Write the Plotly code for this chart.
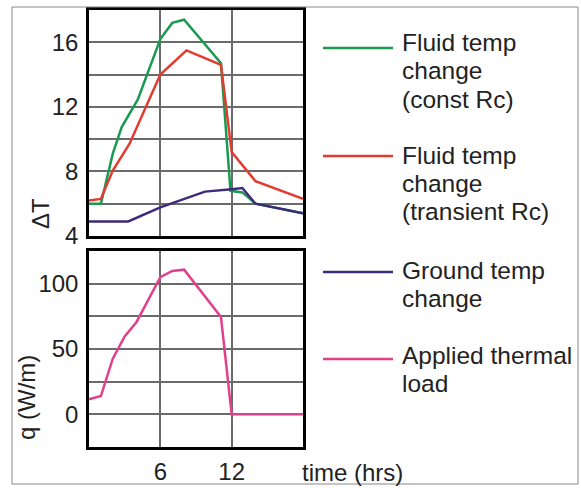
import plotly.graph_objects as go

# ---- data ----
t_green = [0, 1, 2, 2.75, 4.1, 6, 7, 8, 11.1, 11.9, 12.9, 14, 18]
dT_const = [6.0, 6.0, 9.1, 10.75, 12.45, 16.2, 17.2, 17.4, 14.7, 6.8, 6.7, 6.0, 5.4]

t_red = [0, 1, 2, 3.4, 6, 8.2, 11.1, 12, 14, 18]
dT_trans = [6.2, 6.3, 8.05, 9.7, 14.0, 15.5, 14.6, 9.2, 7.4, 6.3]

t_purple = [0, 3.3, 6, 9.75, 12, 12.9, 14, 18]
dT_ground = [4.9, 4.9, 5.77, 6.75, 6.9, 6.97, 6.0, 5.4]

t_pink = [0, 1, 2, 3, 4, 6, 7, 8, 11.1, 12, 18]
q_load = [11.5, 14, 42.6, 59.7, 70.7, 105, 109.7, 110.7, 74.5, 0, 0]

legend_labels = [
    ["Fluid temp", "change", "(const Rc)"],
    ["Fluid temp", "change", "(transient Rc)"],
    ["Ground temp", "change"],
    ["Applied thermal", "load"],
]
colors = ["#1a9a50", "#e23b30", "#3d2a7a", "#e0408c"]

top_ticks = [4, 6, 8, 10, 12, 14, 16, 18]
top_ticktext = ["4", "", "8", "", "12", "", "16", ""]
bot_ticks = [-25, 0, 25, 50, 75, 100, 125]
bot_ticktext = ["", "0", "", "50", "", "100", ""]
x_ticks = [6, 12]

W, H = 581, 488
FONT = "Liberation Sans, Arial, sans-serif"
FS = 24

fig = go.Figure()
fig.add_trace(go.Scatter(x=t_green, y=dT_const, mode="lines",
                         line=dict(color=colors[0], width=2.5), xaxis="x", yaxis="y"))
fig.add_trace(go.Scatter(x=t_red, y=dT_trans, mode="lines",
                         line=dict(color=colors[1], width=2.5), xaxis="x", yaxis="y"))
fig.add_trace(go.Scatter(x=t_purple, y=dT_ground, mode="lines",
                         line=dict(color=colors[2], width=2.5), xaxis="x", yaxis="y"))
fig.add_trace(go.Scatter(x=t_pink, y=q_load, mode="lines",
                         line=dict(color=colors[3], width=2.5), xaxis="x2", yaxis="y2"))

def px(x):
    return x / W

def py(y):
    return 1 - y / H

xdom = [px(89), px(303)]
axis_common = dict(showline=True, linecolor="black", linewidth=2.5, mirror=True,
                   showgrid=True, gridcolor="#6a6a6a", gridwidth=1.5, zeroline=False,
                   automargin=False,
                   tickfont=dict(family=FONT, size=FS, color="#222"))

fig.update_layout(
    width=W, height=H,
    margin=dict(l=0, r=0, t=0, b=0),
    paper_bgcolor="white", plot_bgcolor="white",
    showlegend=False,
    xaxis=dict(domain=xdom, range=[0, 18], tickvals=x_ticks, showticklabels=False,
               anchor="y", **axis_common),
    yaxis=dict(domain=[py(236), py(10)], range=[4, 18], tickvals=top_ticks,
               ticktext=top_ticktext, anchor="x", ticklabelstandoff=3, **axis_common),
    xaxis2=dict(domain=xdom, range=[0, 18], tickvals=x_ticks, anchor="y2",
                ticklabelstandoff=1, **axis_common),
    yaxis2=dict(domain=[py(447), py(251)], range=[-25, 125], tickvals=bot_ticks,
                ticktext=bot_ticktext, anchor="x2", ticklabelstandoff=3, **axis_common),
)

# outer frame
fig.add_shape(type="rect", xref="paper", yref="paper",
              x0=px(12), x1=px(578), y0=py(484), y1=py(7),
              line=dict(color="#888", width=1))

# axis titles
fig.add_annotation(text="ΔT", xref="paper", yref="paper", x=px(40), y=py(213),
                   textangle=-90, showarrow=False, xanchor="center", yanchor="middle",
                   font=dict(family=FONT, size=FS, color="#222"))
fig.add_annotation(text="q (W/m)", xref="paper", yref="paper", x=px(26), y=py(398),
                   textangle=-90, showarrow=False, xanchor="center", yanchor="middle",
                   font=dict(family=FONT, size=FS, color="#222"))
fig.add_annotation(text="time (hrs)", xref="paper", yref="paper", x=px(300), y=py(472),
                   showarrow=False, xanchor="left", yanchor="middle",
                   font=dict(family=FONT, size=FS, color="#222"))

# legend
legend_y = [48, 156, 272, 359]
text_first = [42, 155, 270, 355]
LINE = 28.5
for lines, c, ly, ty in zip(legend_labels, colors, legend_y, text_first):
    fig.add_shape(type="line", xref="paper", yref="paper",
                  x0=px(323), x1=px(393), y0=py(ly), y1=py(ly),
                  line=dict(color=c, width=2.5))
    for i, s in enumerate(lines):
        fig.add_annotation(text=s, xref="paper", yref="paper", x=px(400),
                           y=py(ty + i * LINE), showarrow=False,
                           xanchor="left", yanchor="middle", align="left",
                           font=dict(family=FONT, size=24.5, color="#222"))

fig.write_html("out.html", config={"displayModeBar": False},
               post_script="document.body.style.margin='0';document.body.style.overflow='hidden';")
